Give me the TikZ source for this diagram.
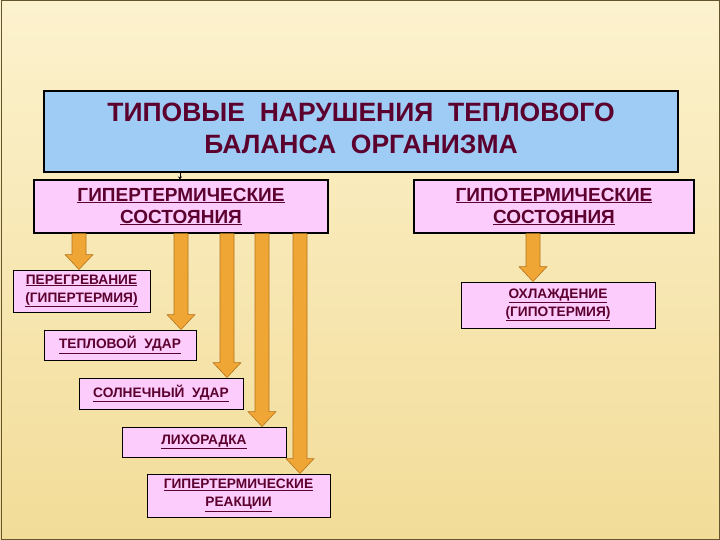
\documentclass[tikz,border=0pt]{standalone}
\usepackage{fontspec}
\setmainfont{Liberation Sans}
\usetikzlibrary{calc,arrows.meta}
\definecolor{bgtop}{RGB}{252,242,206}
\definecolor{bgbot}{RGB}{242,220,152}
\definecolor{frameC}{RGB}{100,85,45}
\definecolor{titlefill}{RGB}{158,204,245}
\definecolor{pinkfill}{RGB}{252,204,252}
\definecolor{txt}{RGB}{92,0,46}
\definecolor{orangefill}{RGB}{240,166,52}
\definecolor{orangeedge}{RGB}{180,115,30}
\begin{document}
\begin{tikzpicture}[x=1pt,y=-1pt,
  box/.style={draw=black, line width=0.9pt, fill=pinkfill, text=txt, align=center, inner sep=0pt,
    font=\bfseries\fontsize{13.7}{18}\selectfont},
  bigbox/.style={box, line width=1.1pt, font=\bfseries\fontsize{19}{22}\selectfont},
  titlebox/.style={draw=black, line width=2pt, fill=titlefill, text=txt, align=center, inner sep=0pt,
    font=\bfseries\fontsize{26.5}{31}\selectfont},
  barrow/.style={fill=orangefill, draw=orangeedge, line width=0.6pt, line join=miter,
    to path={let \p1=(\tikztostart), \p2=(\tikztotarget) in
      (\x1-7pt,\y1) -- (\x1-7pt,\y2+15pt) -- (\x1-14pt,\y2+15pt) -- (\x1,\y2)
      -- (\x1+14pt,\y2+15pt) -- (\x1+7pt,\y2+15pt) -- (\x1+7pt,\y1) -- cycle}}
]
\useasboundingbox (0,0) rectangle (720,540);
\shade[top color=bgtop, bottom color=bgbot] (0,0) rectangle (720,540);
\draw[frameC, line width=1pt] (1,1) rectangle (719,539);

\node[titlebox, minimum width=634pt, minimum height=81pt] (title) at (361,131.5)
  {\raisebox{4pt}{\begin{tabular}{@{}c@{}}ТИПОВЫЕ\ \ НАРУШЕНИЯ\ \ ТЕПЛОВОГО\\[1pt]БАЛАНСА\ \ ОРГАНИЗМА\end{tabular}}};

\node[bigbox, minimum width=294pt, minimum height=53pt] (hyp) at (181,206.5)
  {\underline{ГИПЕРТЕРМИЧЕСКИЕ}\\\underline{СОСТОЯНИЯ}};
\node[bigbox, minimum width=280pt, minimum height=53pt] (hypo) at (554,206.5)
  {\underline{ГИПОТЕРМИЧЕСКИЕ}\\\underline{СОСТОЯНИЯ}};

\node[box, minimum width=137pt, minimum height=42pt] (per) at (81.5,291)
  {\underline{ПЕРЕГРЕВАНИЕ}\\\underline{(ГИПЕРТЕРМИЯ)}};
\node[box, minimum width=152pt, minimum height=30pt] (tep) at (120,345)
  {\underline{ТЕПЛОВОЙ\ \ УДАР}};
\node[box, minimum width=164pt, minimum height=31pt] (sol) at (161,393.5)
  {\underline{СОЛНЕЧНЫЙ\ \ УДАР}};
\node[box, minimum width=164pt, minimum height=30pt] (lih) at (204,442)
  {\underline{ЛИХОРАДКА}};
\node[box, minimum width=183pt, minimum height=43pt] (rea) at (238.5,495.5)
  {\underline{ГИПЕРТЕРМИЧЕСКИЕ}\\\underline{РЕАКЦИИ}};
\node[box, minimum width=194pt, minimum height=46pt] (ohl) at (558,305)
  {\underline{ОХЛАЖДЕНИЕ}\\\underline{(ГИПОТЕРМИЯ)}};

\coordinate (t0) at (180,0 |- title.south);
\coordinate (t1) at (180,0 |- hyp.north);
\draw[line width=0.9pt, -{Stealth[length=3pt,width=4pt]}] (t0) -- (t1);

\coordinate (s1) at (79,0 |- hyp.south);  \coordinate (e1) at (79,0 |- per.north);
\coordinate (s2) at (181,0 |- hyp.south); \coordinate (e2) at (181,0 |- tep.north);
\coordinate (s3) at (227,0 |- hyp.south); \coordinate (e3) at (227,0 |- sol.north);
\coordinate (s4) at (262,0 |- hyp.south); \coordinate (e4) at (262,0 |- lih.north);
\coordinate (s5) at (300,0 |- hyp.south); \coordinate (e5) at (300,0 |- rea.north);
\coordinate (s6) at (533,0 |- hypo.south); \coordinate (e6) at (533,0 |- ohl.north);
\foreach \i in {1,...,6} \draw[barrow] (s\i) to (e\i);
\end{tikzpicture}
\end{document}
